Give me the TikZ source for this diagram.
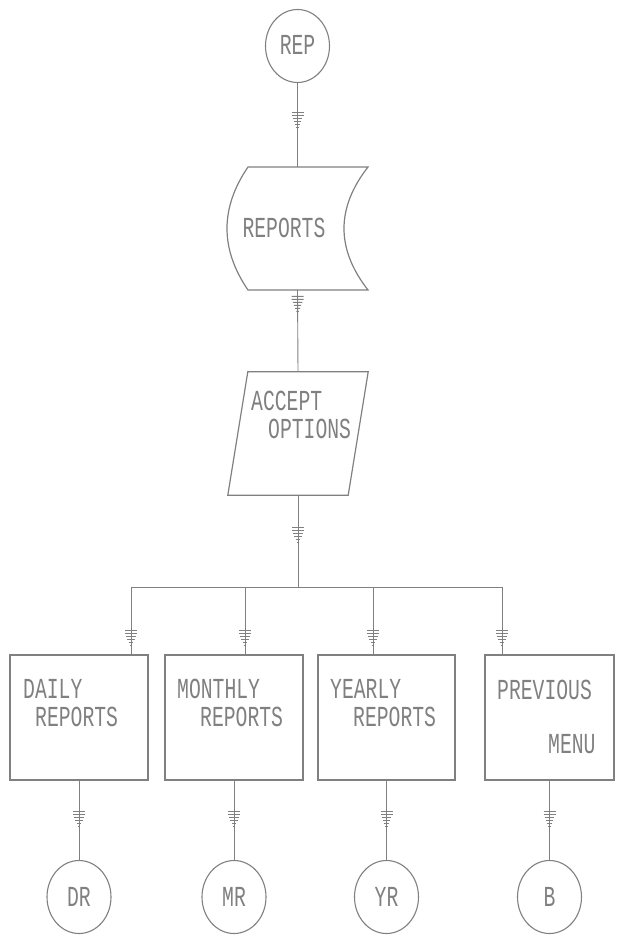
\documentclass[tikz,border=0pt]{standalone}
\usepackage{fontspec}
\newfontfamily\dotfont[FakeStretch=0.68]{Liberation Mono}
\usetikzlibrary{decorations.markings,shapes.geometric}
\definecolor{ink}{gray}{0.5}
\newcommand\arrowglyph{%
  \foreach \d/\w in {0/1.2,3/2.4,6/3.6,9/4.8,12/6,15/6}{%
    \draw[ink,line width=1pt] (-\d pt,-\w pt) -- (-\d pt,\w pt);}}
\tikzset{
  conn/.style={draw=ink,line width=0.9pt},
  amark/.style={postaction={decorate,decoration={markings,mark=at position #1 with {\arrowglyph}}}},
  shp/.style={draw=ink,line width=1.2pt},
  term/.style={shape=ellipse,draw=ink,line width=1.1pt,minimum width=64pt,minimum height=73pt,inner sep=0pt},
  frame/.style={shape=rectangle,inner sep=0pt},
  procbox/.style={shape=rectangle,draw=ink,line width=1.6pt,minimum height=125pt,inner sep=0pt},
  lbl/.style={text=ink,inner sep=0pt,font=\dotfont\fontsize{29}{29}\selectfont},
}
\begin{document}
\begin{tikzpicture}[x=1pt,y=-1pt]
\useasboundingbox (0,0) rectangle (620,936);

% top terminal
\node[term] (rep) at (297.5,46) {};
\node[lbl] (repT) at (297.5,45) {REP};

% stored data shape
\node[frame,minimum width=141pt,minimum height=123pt] (reports) at (297.5,228.5) {};
\draw[shp] (248,167) -- (368,167)
  .. controls (336,208) and (336,249) .. (368,290) -- (248,290)
  .. controls (220,249) and (220,208) .. cycle;
\node[lbl] (reportsT) at (284,228) {REPORTS};

% input parallelogram
\node[frame,minimum width=140pt,minimum height=123pt] (accept) at (298,433.5) {};
\draw[shp] ([xshift=20pt]accept.north west) -- (accept.north east)
  -- ([xshift=-20pt]accept.south east) -- (accept.south west) -- cycle;
\node[lbl,anchor=west] (acceptT1) at (251,401) {ACCEPT};
\node[lbl,anchor=west] (acceptT2) at (268,429) {OPTIONS};

% process boxes
\node[procbox,minimum width=138pt] (daily) at (79,717.5) {};
\node[procbox,minimum width=138pt] (monthly) at (234,717.5) {};
\node[procbox,minimum width=137pt] (yearly) at (386.5,717.5) {};
\node[procbox,minimum width=129pt] (prev) at (549.5,717.5) {};

\node[lbl,anchor=west] (dailyT1) at (23,689) {DAILY};
\node[lbl,anchor=west] (dailyT2) at (35,717) {REPORTS};
\node[lbl,anchor=west] (monthlyT1) at (177,689) {MONTHLY};
\node[lbl,anchor=west] (monthlyT2) at (200,717) {REPORTS};
\node[lbl,anchor=west] (yearlyT1) at (330,689) {YEARLY};
\node[lbl,anchor=west] (yearlyT2) at (353,717) {REPORTS};
\node[lbl,anchor=west] (prevT1) at (497,690) {PREVIOUS};
\node[lbl,anchor=west] (prevT2) at (548,744) {MENU};

% bottom terminals
\node[term] (dr) at (79,897) {};
\node[lbl] (drT) at (79,897) {DR};
\node[term] (mr) at (234,897) {};
\node[lbl] (mrT) at (234,897) {MR};
\node[term] (yr) at (386.5,897) {};
\node[lbl] (yrT) at (386.5,897) {YR};
\node[term] (bb) at (549.5,897) {};
\node[lbl] (bbT) at (549.5,897) {B};

% bus coordinates
\coordinate (bj) at (298,587);
\coordinate (b1) at (131,587);
\coordinate (b2) at (245,587);
\coordinate (b3) at (373,587);
\coordinate (b4) at (502,587);

% connectors
\draw[conn,amark=0.53] (rep.south) -- (reports.north);
\draw[conn,amark=0.26] (reports.south) -- (accept.north);
\draw[conn,amark=0.51] (accept.south) -- (bj);
\draw[conn] (b1) -- (b4);
\draw[conn,amark=0.87] (b1) -- (b1 |- daily.north);
\draw[conn,amark=0.87] (b2) -- (b2 |- monthly.north);
\draw[conn,amark=0.87] (b3) -- (b3 |- yearly.north);
\draw[conn,amark=0.87] (b4) -- (b4 |- prev.north);
\draw[conn,amark=0.58] (daily.south) -- (dr.north);
\draw[conn,amark=0.58] (monthly.south) -- (mr.north);
\draw[conn,amark=0.58] (yearly.south) -- (yr.north);
\draw[conn,amark=0.58] (prev.south) -- (bb.north);
\end{tikzpicture}
\end{document}
